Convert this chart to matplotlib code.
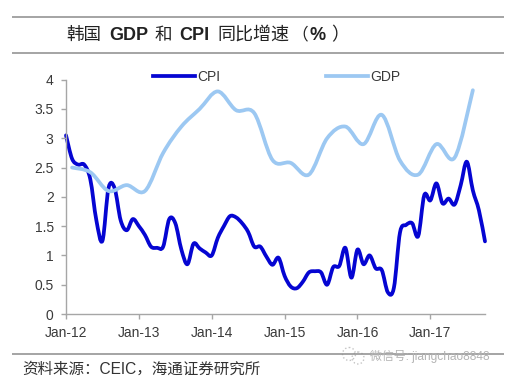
# -*- coding: utf-8 -*-
import matplotlib
matplotlib.use('Agg')
import matplotlib.pyplot as plt
from matplotlib.lines import Line2D
from matplotlib.patches import Circle, PathPatch
from matplotlib.path import Path

CJK = 'Noto Sans CJK SC'
LATIN = 'Liberation Sans'

# meses desde Jan-12
cpi_months = list(range(70))
cpi_values = [3.05, 2.65, 2.55, 2.55, 2.3, 1.6, 1.25, 2.15, 2.15, 1.6,
              1.43, 1.62, 1.5, 1.35, 1.15, 1.13, 1.15, 1.62, 1.55, 1.1,
              0.85, 1.2, 1.12, 1.05, 1.0, 1.3, 1.5, 1.67, 1.65, 1.55,
              1.4, 1.15, 1.15, 0.98, 0.84, 0.96, 0.65, 0.47, 0.44, 0.55,
              0.71, 0.73, 0.71, 0.5, 0.8, 0.82, 1.13, 0.62, 1.1, 0.85,
              1.0, 0.78, 0.75, 0.37, 0.45, 1.39, 1.52, 1.55, 1.33, 2.03,
              1.94, 2.23, 1.89, 1.97, 1.87, 2.2, 2.6, 2.11, 1.77, 1.24]

gdp_months = [1, 4, 7, 10, 13, 16, 19, 22, 25, 28, 31, 34,
              37, 40, 43, 46, 49, 52, 55, 58, 61, 64, 67]
gdp_values = [2.5, 2.42, 2.1, 2.2, 2.1, 2.75, 3.2, 3.5, 3.8, 3.48, 3.43, 2.63,
              2.58, 2.38, 3.0, 3.2, 2.9, 3.4, 2.62, 2.38, 2.9, 2.67, 3.82]

x_ticks = [0, 12, 24, 36, 48, 60]
x_labels = ['Jan-12', 'Jan-13', 'Jan-14', 'Jan-15', 'Jan-16', 'Jan-17']
y_ticks = [0, 0.5, 1, 1.5, 2, 2.5, 3, 3.5, 4]
y_labels = ['0', '0.5', '1', '1.5', '2', '2.5', '3', '3.5', '4']

CPI_COLOR = '#0505d2'
GDP_COLOR = '#9cc8f2'
TEXT_COLOR = '#3a3a3a'
AXIS_COLOR = '#a6a6a6'
W, H = 519, 380


def suave(xs, ys):
    # linha suavizada como a do Excel (Catmull-Rom em Bezier)
    verts = [(xs[0], ys[0])]
    codes = [Path.MOVETO]
    n = len(xs)
    for i in range(n - 1):
        a, b = max(i - 1, 0), min(i + 2, n - 1)
        c1 = (xs[i] + (xs[i + 1] - xs[a]) / 6, ys[i] + (ys[i + 1] - ys[a]) / 6)
        c2 = (xs[i + 1] - (xs[b] - xs[i]) / 6, ys[i + 1] - (ys[b] - ys[i]) / 6)
        verts += [c1, c2, (xs[i + 1], ys[i + 1])]
        codes += [Path.CURVE4] * 3
    return Path(verts, codes)


fig = plt.figure(figsize=(W / 100, H / 100), dpi=100)

# camada em pixels: regras, titulo, fonte
bg = fig.add_axes([0, 0, 1, 1])
bg.set_xlim(0, W)
bg.set_ylim(H, 0)
bg.axis('off')

for y in (16.5, 52.5, 353.5):
    bg.plot([12, 504], [y, y], color='#8c8c8c', linewidth=1.1, solid_capstyle='butt')

title_parts = [
    (66, '韩国', CJK, 'normal', 12.6),
    (109, 'GDP', LATIN, 'bold', 13),
    (155, '和', CJK, 'normal', 12.6),
    (179, 'CPI', LATIN, 'bold', 13),
    (217, '同比增速', CJK, 'normal', 13),
    (291, '（', CJK, 'normal', 12),
    (310, '%', LATIN, 'bold', 13),
    (331, '）', CJK, 'normal', 13),
]
for x, s, fam, weight, size in title_parts:
    bg.text(x, 35, s, family=fam, weight=weight, fontsize=size,
            ha='left', va='center', color='#222222')

bg.text(22, 369, '资料来源：CEIC，海通证券研究所', family=[LATIN, CJK], fontsize=11.2,
        ha='left', va='center', color='#333333')

# marca d'agua
bg.add_patch(Circle((354, 356), 13, facecolor='white', edgecolor='none'))
bg.add_patch(Circle((349, 354), 6.5, facecolor='none', edgecolor='#c4c4c4',
                    linewidth=1, linestyle=':'))
bg.add_patch(Circle((358, 358), 6, facecolor='none', edgecolor='#c4c4c4',
                    linewidth=1, linestyle=':'))
bg.text(370, 356, '微信号: jiangchao8848', family=[LATIN, CJK], fontsize=8.6,
        ha='left', va='center', color='#b4b4b4')

# grafico
ax = fig.add_axes([66 / W, 1 - 314 / H, (485 - 66) / W, (314 - 79.7) / H])
ax.patch.set_alpha(0)
ax.set_xlim(0, 69)
ax.set_ylim(0, 4)

ax.add_patch(PathPatch(suave(cpi_months, cpi_values), facecolor='none', edgecolor=CPI_COLOR,
                       linewidth=2.7, capstyle='round', joinstyle='round', clip_on=False))
ax.add_patch(PathPatch(suave(gdp_months, gdp_values), facecolor='none', edgecolor=GDP_COLOR,
                       linewidth=2.7, capstyle='round', joinstyle='round', clip_on=False))

ax.set_xticks(x_ticks)
ax.set_xticklabels(x_labels)
ax.set_yticks(y_ticks)
ax.set_yticklabels(y_labels)
for spine in ('top', 'right'):
    ax.spines[spine].set_visible(False)
for spine in ('left', 'bottom'):
    ax.spines[spine].set_color(AXIS_COLOR)
    ax.spines[spine].set_linewidth(1)
ax.tick_params(axis='both', length=3.4, width=1, color=AXIS_COLOR, labelcolor=TEXT_COLOR,
               labelsize=10)
ax.tick_params(axis='x', pad=5.5)
ax.tick_params(axis='y', pad=5.5)
for lab in ax.get_xticklabels() + ax.get_yticklabels():
    lab.set_family(LATIN)

handles = [Line2D([], [], color=CPI_COLOR, linewidth=2.7),
           Line2D([], [], color=GDP_COLOR, linewidth=2.7)]
leg = ax.legend(handles, ['CPI', 'GDP'], ncol=2, frameon=False, loc='center left',
                bbox_to_anchor=((153 - 66) / 419, (314 - 76.7) / 234.3),
                borderaxespad=0, borderpad=0, handlelength=3.0, handletextpad=0.2,
                columnspacing=7.6, prop={'family': LATIN, 'size': 10})
for t in leg.get_texts():
    t.set_color(TEXT_COLOR)

fig.savefig('out.png', dpi=100)
